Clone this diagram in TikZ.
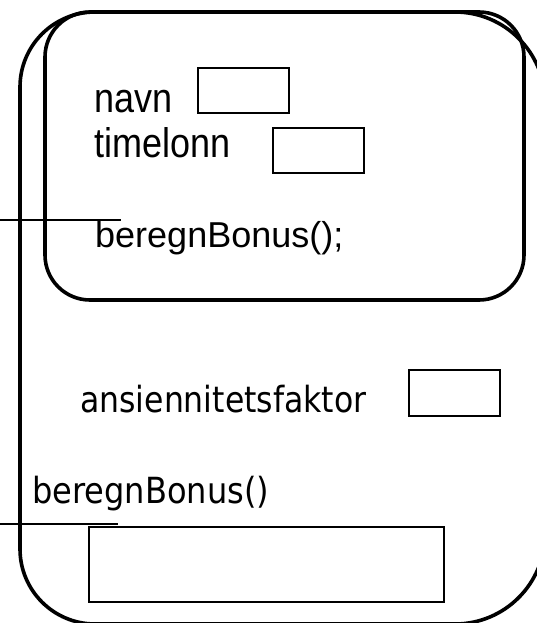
\documentclass[tikz,border=0pt]{standalone}
\usepackage{graphicx}
\usepackage{fontspec}
\setmainfont{Liberation Sans}
\newfontfamily\tahfont[FakeStretch=0.875]{DejaVu Sans}
\newfontfamily\tahfontb[FakeStretch=0.89]{DejaVu Sans}
\newcommand{\talltext}[1]{\scalebox{1}[1.15]{#1}}
\begin{document}
\begin{tikzpicture}[x=1pt,y=-1pt,
  frame/.style={draw, line width=3.6pt},
  slot/.style={draw, line width=2pt, inner sep=0pt, anchor=north west},
  lbl/.style={anchor=base west, inner sep=0pt, font=\fontsize{36}{40}\selectfont},
  lblt/.style={anchor=base west, inner sep=0pt, font=\tahfont\fontsize{36}{40}\selectfont},
  lbltb/.style={anchor=base west, inner sep=0pt, font=\tahfontb\fontsize{36}{40}\selectfont},
  link/.style={line width=1.5pt}]
\useasboundingbox (0,0) rectangle (536,623);
% outer (subclass) object, partly cut off at right and bottom
\draw[frame] (95,12) -- (455,12) arc[start angle=-90, end angle=0, radius=90]
  -- (545,534) arc[start angle=0, end angle=90, radius=90]
  -- (95,624) arc[start angle=90, end angle=180, radius=75]
  -- (20,87) arc[start angle=180, end angle=270, radius=75] -- cycle;
% inner (superclass) object
\draw[frame, rounded corners=45pt] (45,12) rectangle (524,300);
% fields
\node[lbl] (navn) at (94,113) {\talltext{navn}};
\node[slot, minimum width=91pt, minimum height=45pt] (navnbox) at (197,67) {};
\node[lbl] (timelonn) at (94,157) {\talltext{timelonn}};
\node[slot, minimum width=91pt, minimum height=45pt] (timebox) at (272,127) {};
\node[lbl] (bb1) at (95,247) {beregnBonus();};
\node[lblt] (ans) at (80,412) {ansiennitetsfaktor};
\node[slot, minimum width=91pt, minimum height=46pt] (ansbox) at (408,369) {};
\node[lbltb] (bb2) at (32,503) {beregnBonus()};
\node[slot, minimum width=355pt, minimum height=75pt] (bodybox) at (88,526) {};
% pointer lines
\coordinate (p1s) at (0,220);
\coordinate (p1e) at (121,220);
\draw[link] (p1s) -- (p1e);
\coordinate (p2s) at (0,524);
\coordinate (p2e) at (118,524);
\draw[link] (p2s) -- (p2e);
\end{tikzpicture}
\end{document}
